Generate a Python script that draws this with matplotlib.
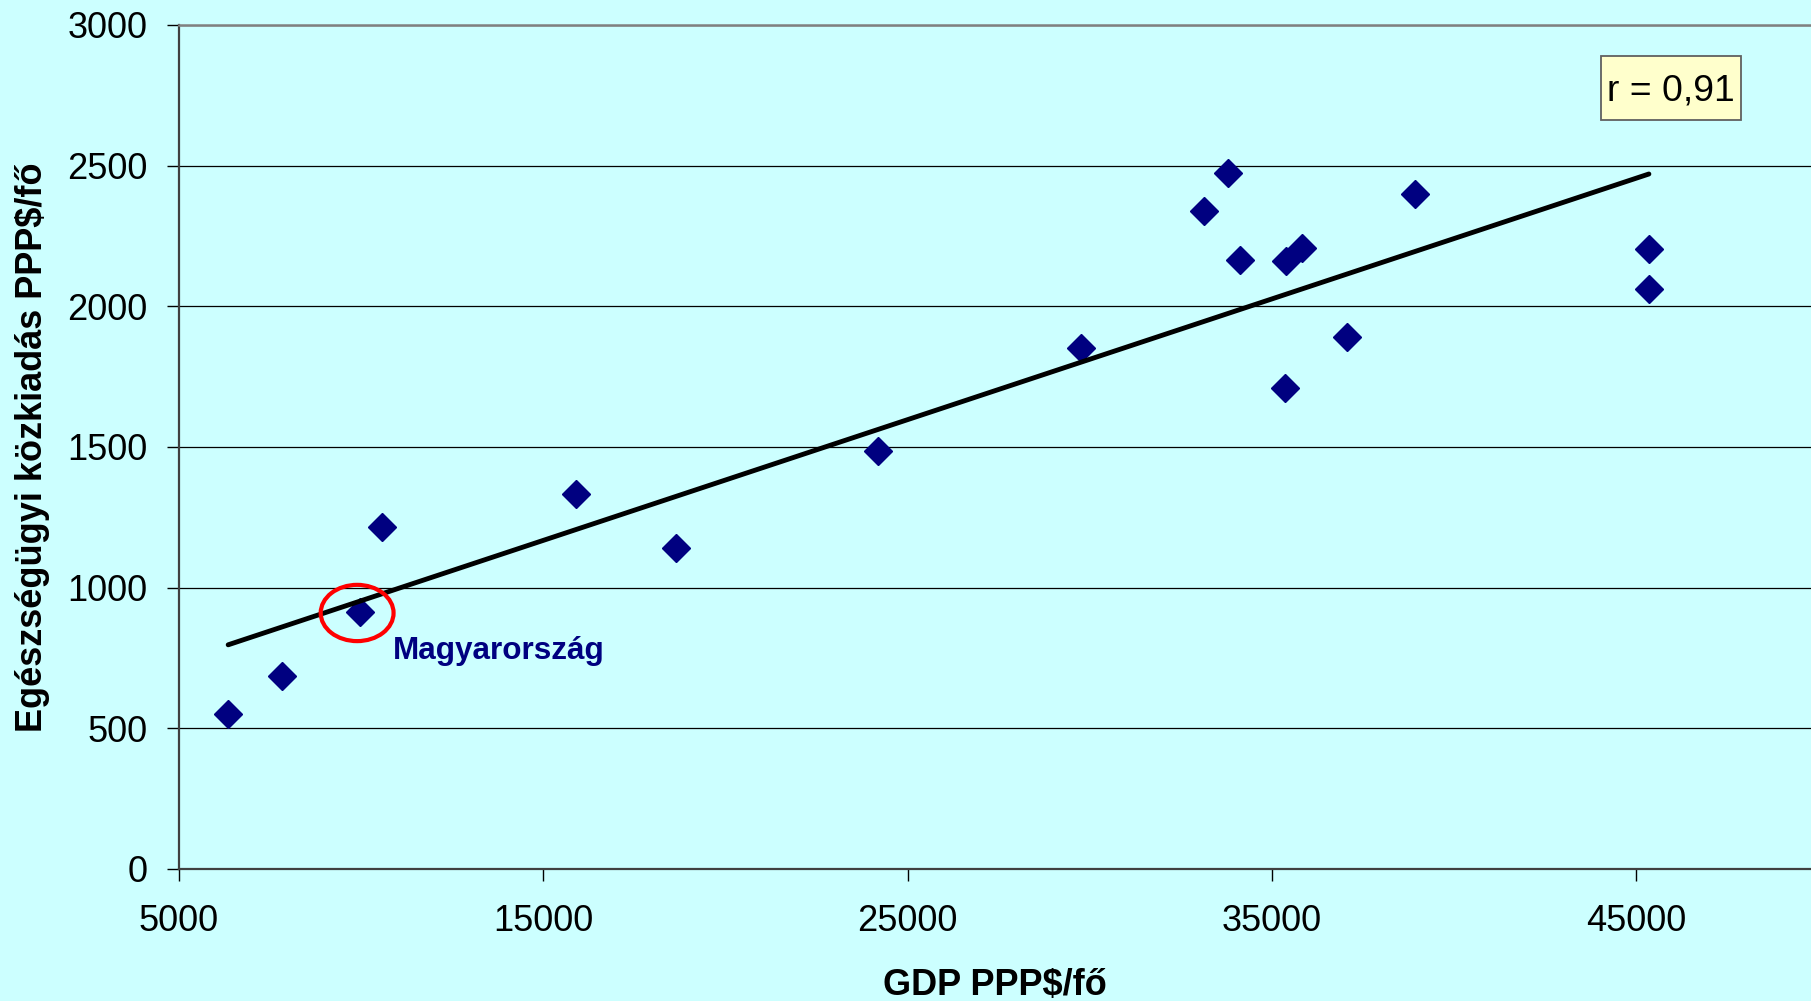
"""
GDP vs public health expenditure (PPP$ per capita) - scatter with linear trend.
"""

import numpy as np
import matplotlib
matplotlib.use("Agg")
import matplotlib.pyplot as plt
from matplotlib.patches import Ellipse, Rectangle

# ── Data ─────────────────────────────────────────────────────────────────────
gdp = [6350, 7830, 9970, 10570, 15900, 18650, 24200, 29750, 33150, 33800,
       34130, 35390, 35830, 35360, 37070, 38930, 45350, 45350]
health = [551, 686, 915, 1216, 1333, 1140, 1485, 1853, 2340, 2474,
          2164, 2161, 2207, 1710, 1891, 2399, 2204, 2062]

hu_gdp, hu_health = 9970, 915
hu_label = "Magyarország"
r_label = "r = 0,91"

x_ticks = [5000, 15000, 25000, 35000, 45000]
y_ticks = [0, 500, 1000, 1500, 2000, 2500, 3000]

BG = "#CCFFFF"
NAVY = "#000080"

plt.rcParams['font.family'] = ['Liberation Sans', 'DejaVu Sans']

fig = plt.figure(figsize=(18.11, 10.01), dpi=100, facecolor=BG)
ax = fig.add_axes([179 / 1811, 132 / 1001, 1632 / 1811, 844 / 1001], facecolor=BG)

# ── Gridlines & spines ───────────────────────────────────────────────────────
ax.set_axisbelow(True)
ax.yaxis.grid(True, color="black", linewidth=0.9)
ax.spines['top'].set_color("#808080")
ax.spines['top'].set_linewidth(1.8)
ax.spines['right'].set_visible(False)
ax.spines['left'].set_color("#404040")
ax.spines['left'].set_linewidth(1.6)
ax.spines['bottom'].set_color("#404040")
ax.spines['bottom'].set_linewidth(1.6)

# ── Scatter + trend line ────────────────────────────────────────────────────
ax.plot(gdp, health, linestyle="none", marker="D", markersize=14.3,
        color=NAVY, markeredgecolor=NAVY, zorder=3)

slope, intercept = np.polyfit(gdp, health, 1)
xs = np.array([min(gdp), max(gdp)])
ax.plot(xs, slope * xs + intercept, color="black", linewidth=3.5,
        solid_capstyle="round", zorder=4)

# ── Highlight Hungary ───────────────────────────────────────────────────────
ax.add_patch(Ellipse((hu_gdp - 80, hu_health - 5), 2000, 200, fill=False,
                     edgecolor="#FF0000", linewidth=3.0, zorder=5))
ax.text(hu_gdp + 900, hu_health - 169, hu_label, color=NAVY, fontsize=22.7,
        fontweight="bold", ha="left", va="baseline", zorder=5)

# ── r box ────────────────────────────────────────────────────────────────────
ax.add_patch(Rectangle((0.8713, 0.8874), 0.0858, 0.0758, transform=ax.transAxes,
                       facecolor="#FFFFCC", edgecolor="#606060", linewidth=1.3,
                       zorder=6, clip_on=False))
ax.text(0.9142, 0.9105, r_label, transform=ax.transAxes, fontsize=26.8,
        ha="center", va="baseline", zorder=7)

# ── Axes ─────────────────────────────────────────────────────────────────────
ax.set_xlim(5000, 49800)
ax.set_ylim(0, 3000)
ax.set_xticks(x_ticks)
ax.set_yticks(y_ticks)
ax.tick_params(axis="both", direction="out", length=8.5, width=1,
               colors="black", labelsize=26)
ax.tick_params(axis="y", pad=14)
ax.tick_params(axis="x", pad=17)

ax.set_xlabel("GDP PPP$/fő", fontsize=26, fontweight="bold")
ax.xaxis.set_label_coords(0.5, -0.117)
ax.set_ylabel("Egészségügyi közkiadás PPP$/fő", fontsize=26, fontweight="bold")
ax.yaxis.set_label_coords(-0.079, 0.5)

plt.savefig("out.png", dpi=100, facecolor=BG)
